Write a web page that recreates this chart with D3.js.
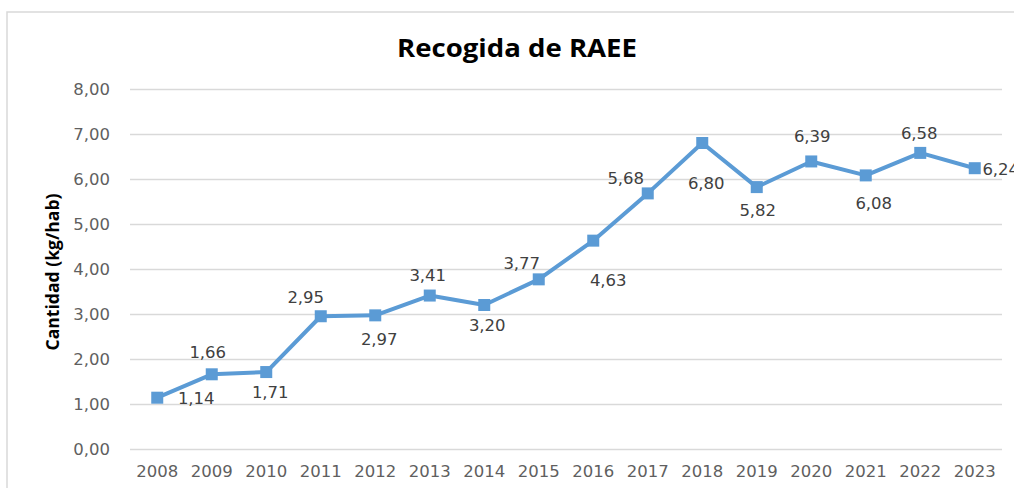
<!DOCTYPE html>
<html><head><meta charset="utf-8">
<script src="https://cdn.jsdelivr.net/npm/d3@7"></script>
<style>body{margin:0;background:#fff}svg{display:block}</style>
</head><body>
<svg id="c" width="1014" height="488"></svg>
<script>
const years = ["2008","2009","2010","2011","2012","2013","2014","2015","2016","2017","2018","2019","2020","2021","2022","2023"];
const values = [1.14,1.66,1.71,2.95,2.97,3.41,3.20,3.77,4.63,5.68,6.80,5.82,6.39,6.08,6.58,6.24];
const yTicks = [0,1,2,3,4,5,6,7,8];
// label offsets (dx, dy) relative to each point
const labelDx = [39,-4,4,-15,4,-2,3,-17,15,-22,4,1,1,8,-1,26];
const labelDy = [0,-22,20,-19,24,-20,20,-16,39,-15,40,23,-25,28,-20,1];

const svg = d3.select("#c");
const m = {l:130, r:1002, t:89, b:449};
const x = d3.scaleBand().domain(years).range([m.l, m.r]);
const y = d3.scaleLinear().domain([0,8]).range([m.b, m.t]);
const fmt = v => d3.format(".2f")(v).replace(".", ",");

svg.append("rect").attr("x",7).attr("y",12).attr("width",1100).attr("height",600)
  .attr("fill","#fff").attr("stroke","#d9d9d9").attr("stroke-width",1.5);

svg.append("text").attr("x",517).attr("y",57).attr("text-anchor","middle")
  .attr("font-family","Open Sans").attr("font-weight","bold").attr("font-size",25)
  .attr("textLength",240).attr("lengthAdjust","spacingAndGlyphs")
  .attr("fill","#000").text("Recogida de RAEE");

const yAxis = svg.append("g").attr("transform",`translate(${m.l},0)`)
  .call(d3.axisLeft(y).tickValues(yTicks).tickFormat(fmt).tickSize(-(m.r-m.l)).tickPadding(20));
yAxis.select(".domain").remove();
yAxis.selectAll("line").attr("stroke","#d9d9d9").attr("stroke-width",1.5);
yAxis.selectAll("text").attr("font-family","DejaVu Sans").attr("font-size",16.5).attr("fill","#5f5f5f");

const xAxis = svg.append("g").attr("transform",`translate(0,${m.b})`)
  .call(d3.axisBottom(x).tickSize(0).tickPadding(16));
xAxis.select(".domain").remove();
xAxis.selectAll("text").attr("font-family","DejaVu Sans").attr("font-size",16.5).attr("fill","#5f5f5f");

svg.append("text").attr("transform","translate(59,272) rotate(-90)").attr("text-anchor","middle")
  .attr("font-family","Open Sans").attr("font-weight","bold").attr("font-size",17.5)
  .attr("textLength",157).attr("lengthAdjust","spacingAndGlyphs")
  .attr("fill","#000").text("Cantidad (kg/hab)");

const cx = d => x(d) + x.bandwidth()/2;
const line = d3.line().x((d,i)=>cx(years[i])).y(d=>y(d));
svg.append("path").datum(values).attr("d",line).attr("fill","none")
  .attr("stroke","#5B9BD5").attr("stroke-width",4).attr("stroke-linejoin","round");

const s = 12;
svg.selectAll("rect.mk").data(values).join("rect").attr("class","mk")
  .attr("x",(d,i)=>cx(years[i])-s/2).attr("y",d=>y(d)-s/2)
  .attr("width",s).attr("height",s).attr("fill","#5B9BD5");

svg.selectAll("text.lbl").data(values).join("text").attr("class","lbl")
  .attr("x",(d,i)=>cx(years[i])+labelDx[i]).attr("y",(d,i)=>y(d)+labelDy[i])
  .attr("dy","0.36em").attr("text-anchor","middle")
  .attr("font-family","DejaVu Sans").attr("font-size",16.5).attr("fill","#404040")
  .text(d=>fmt(d));
</script>
</body></html>
